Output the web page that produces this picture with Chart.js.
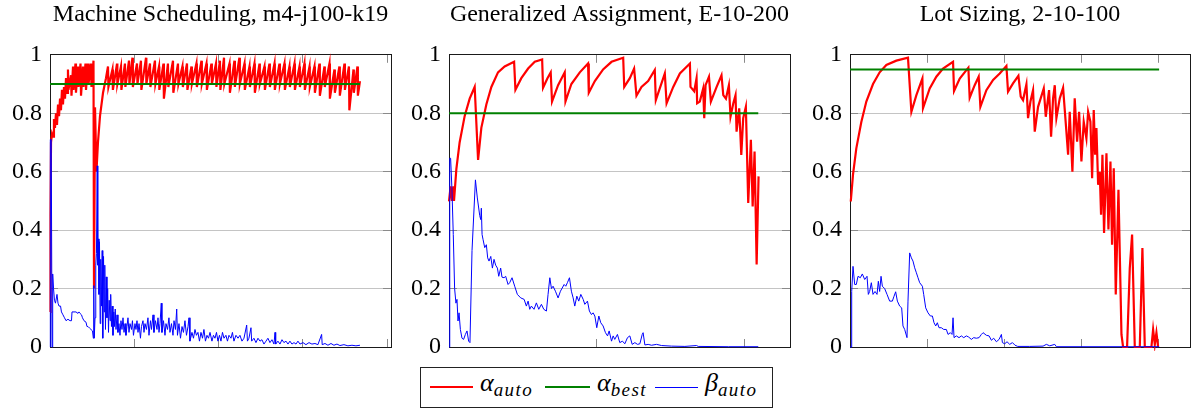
<!DOCTYPE html>
<html>
<head>
<meta charset="utf-8">
<script src="https://cdn.jsdelivr.net/npm/chart.js@4.4.0/dist/chart.umd.min.js"></script>
<style>
  body { margin: 0; background: #fff; width: 1194px; height: 409px; overflow: hidden; position: relative; font-family: "Liberation Serif", serif; }
  canvas { position: absolute; top: 0; }
  #legend { position: absolute; left: 420px; top: 367px; width: 351px; height: 39px; border: 1px solid #222; background: #fff; }
  #legend .ln { position: absolute; top: 18px; height: 0; }
  #legend .lb { position: absolute; top: 2px; font-size: 26px; line-height: 26px; font-style: italic; white-space: nowrap; }
  #legend sub { font-size: 19px; line-height: 0; vertical-align: -5px; letter-spacing: 1.4px; }
</style>
</head>
<body>
<canvas id="ms" width="399" height="375" style="left:0px"></canvas>
<canvas id="ga" width="400" height="375" style="left:399px"></canvas>
<canvas id="ls" width="394" height="375" style="left:800px"></canvas>

<div id="legend">
  <span class="ln" style="left:9px;width:43px;border-top:2px solid #ff0000"></span>
  <span class="lb" style="left:59px">α<sub>auto</sub></span>
  <span class="ln" style="left:124px;width:45px;border-top:2px solid #008000"></span>
  <span class="lb" style="left:176px">α<sub>best</sub></span>
  <span class="ln" style="left:234px;width:43px;border-top:1px solid #0000ff;margin-top:1px"></span>
  <span class="lb" style="left:284px">β<sub>auto</sub></span>
</div>

<script>
// Machine Scheduling, m4-j100-k19  (x: iterations, ticks every 100)
const msAlpha = [[0,0.12],[0.6,0.45],[1.2,0.70],[2.4,0.73],[3.6,0.72],[4.7,0.78],[5.9,0.75],[7.1,0.80],[8.3,0.76],[9.5,0.83],[10.7,0.79],[11.9,0.85],[13.0,0.81],[14.2,0.88],[15.4,0.83],[16.6,0.89],[17.8,0.85],[19.0,0.92],[20.2,0.87],[21.3,0.95],[21.9,0.88],[24.9,0.93],[25.5,0.86],[27.3,0.96],[27.9,0.88],[30.2,0.97],[30.8,0.87],[33.2,0.96],[33.8,0.89],[36.2,0.97],[36.8,0.86],[39.1,0.96],[39.7,0.89],[42.1,0.97],[42.7,0.88],[45.1,0.97],[45.7,0.90],[48.6,0.97],[49.2,0.89],[51.6,0.98],[52.2,0.20],[53.4,0.82],[55.1,0.60],[56.9,0.70],[59.3,0.79],[62.9,0.87],[66.4,0.92],
  [68.8,0.96],[69.3,0.89],[74.1,0.95],[74.6,0.88],[79.5,0.97],[79.9,0.90],[84.2,0.96],[84.7,0.88],[88.9,0.97],[89.4,0.89],[93.7,0.98],[94.2,0.90],[97.8,0.99],[98.3,0.89],[103.2,0.97],[103.7,0.90],[107.9,0.98],[108.4,0.88],[113.9,0.99],[114.3,0.90],[118.6,0.97],[119.1,0.89],[124.5,0.98],[125.0,0.90],[129.3,0.96],[129.7,0.88],[134.6,0.97],[135.1,0.85],[139.9,0.97],[140.4,0.89],[145.9,0.98],[146.3,0.87],[151.8,0.97],[152.3,0.90],[157.1,0.96],[157.6,0.89],[162.5,0.97],[163.0,0.88],[167.8,0.96],[168.3,0.90],[173.7,0.97],[174.2,0.89],[179.7,0.98],[180.1,0.90],[185.6,0.97],[186.1,0.88],[191.5,0.97],[192.0,0.90],[196.9,0.97],[197.4,0.89],[201.6,0.98],[202.1,0.88],[206.4,0.99],[206.8,0.90],[212.9,0.97],[213.4,0.87],[218.8,0.98],[219.3,0.89],[224.7,0.99],[225.2,0.90],[230.7,0.97],[231.1,0.88],[236.6,0.96],[237.1,0.89],[242.5,0.97],[243.0,0.87],[248.5,0.97],[248.9,0.90],[254.4,0.96],[254.9,0.88],[260.3,0.97],[260.8,0.89],[266.3,0.97],[266.7,0.88],[272.2,0.97],[272.7,0.90],[278.1,0.97],[278.6,0.88],[284.0,0.96],[284.5,0.89],[290.0,0.97],[290.5,0.88],[295.9,0.96],[296.4,0.89],[301.8,0.97],[302.3,0.88],[307.8,0.96],[308.2,0.89],[313.7,0.96],[314.2,0.87],[319.6,0.97],[320.1,0.86],[325.6,0.96],[326.0,0.89],[331.5,0.97],[332.0,0.85],[337.4,0.95],[337.9,0.87],[343.3,0.96],[343.8,0.86],[349.3,0.97],[349.8,0.88],[354.6,0.96],[355.1,0.81],[360.0,0.95],[360.4,0.87],[364.7,0.96],[365.2,0.86],[367.7,0.91]];
const msBest = [[0,0.9],[367.7,0.9]];
const msBeta = [[0,0],[0.4,0.71],[1.5,0.71],[2.4,0],[3.2,0.25],[4.2,0.20],[5.3,0.16],[6.5,0.15],[8.3,0.18],[9.5,0.15],[10.7,0.14],[12.5,0.14],[13.6,0.12],[15.4,0.11],[17.2,0.10],[19.0,0.09],[21.3,0.095],[23.7,0.09],[25.5,0.09],[26.1,0.12],[30.8,0.12],[33.2,0.115],[34.4,0.12],[35.6,0.115],[37.4,0.11],[38.5,0.10],[40.3,0.09],[42.7,0.085],[43.9,0.07],[45.1,0.07],[46.8,0.065],[48.6,0.06],[50.4,0.055],[51.4,0.03],[51.9,0.21],[52.5,0.03],[53.4,0.10],[54.3,0.28],[55.1,0.32],[56.0,0.62],[56.7,0.28],[57.3,0.37],[58.1,0.18],[58.7,0.36],[59.5,0.08],[60.2,0.30],[61.1,0.14],[61.9,0.33],[62.6,0.03],[63.5,0.31],[64.3,0.12],[65.0,0.28],[65.8,0.06],[66.7,0.24],[67.6,0.10],[68.4,0.20],[69.4,0.05],[70.2,0.16],[71.2,0.09],[72.0,0.18],[72.9,0.07],[73.8,0.14],[74.7,0.04],[75.7,0.12],[76.5,0.07],[77.4,0.13],[78.3,0.06],[79.5,0.11],[80.6,0.05],[81.8,0.08],[83.0,0.04],[84.2,0.09],[85.4,0.06],[86.6,0.10],[87.8,0.05],[89.0,0.08],[90.1,0.04],[91.3,0.07],[92.5,0.10],[93.7,0.05],[94.9,0.08],[96.7,0.06],[97.8,0.09],[99.0,0.04],[100.8,0.08],[102.0,0.06],[103.2,0.09],[104.4,0.05],[105.6,0.08],[107.3,0.03],[108.5,0.07],[110.3,0.09],[111.5,0.05],[112.7,0.08],[114.4,0.06],[116.2,0.10],[117.4,0.04],[119.2,0.09],[120.4,0.06],[122.2,0.11],[123.3,0.05],[125.1,0.09],[126.9,0.06],[128.1,0.10],[129.3,0.05],[130.5,0.08],[132.0,0.15],[132.8,0.05],[134.6,0.09],[136.4,0.04],[137.6,0.08],[139.4,0.06],[141.1,0.10],[142.3,0.05],[144.1,0.08],[145.9,0.04],[147.1,0.09],[148.8,0.06],[150.3,0.13],[151.2,0.04],[153.0,0.08],[154.8,0.03],[156.6,0.07],[158.3,0.05],[160.1,0.09],[161.9,0.04],[163.7,0.07],[164.9,0.10],[166.0,0.02],[168.4,0.05],[170.2,0.03],[172.0,0.06],[173.7,0.04],[175.5,0.05],[177.3,0.02],[179.1,0.05],[180.9,0.03],[182.6,0.06],[184.4,0.02],[186.2,0.04],[188.0,0.03],[189.8,0.05],[192.1,0.02],[193.9,0.04],[195.7,0.03],[197.5,0.05],[199.2,0.02],[201.0,0.04],[202.8,0.02],[204.6,0.05],[206.4,0.03],[208.7,0.04],[210.5,0.02],[212.3,0.04],[214.7,0.03],[216.4,0.05],[218.2,0.02],[220.6,0.04],[223.0,0.03],[225.3,0.04],[227.7,0.02],[230.1,0.03],[233.3,0.075],[234.2,0.02],[236.0,0.03],[238.4,0.066],[239.2,0.02],[241.9,0.03],[244.3,0.015],[246.7,0.03],[249.1,0.02],[251.4,0.025],[253.8,0.01],[256.2,0.02],[258.5,0.03],[260.9,0.015],[263.3,0.025],[265.7,0.01],[266.9,0.05],[267.7,0.01],[270.4,0.02],[272.8,0.01],[275.2,0.025],[277.5,0.015],[279.9,0.02],[282.3,0.01],[284.6,0.02],[287.0,0.01],[289.4,0.015],[291.8,0.01],[294.1,0.02],[296.5,0.01],[300.1,0.015],[303.6,0.008],[307.2,0.015],[310.7,0.01],[314.3,0.012],[317.8,0.008],[322.2,0.043],[322.9,0.008],[326.2,0.012],[329.7,0.006],[333.3,0.012],[336.8,0.006],[340.4,0.01],[343.9,0.005],[348.7,0.008],[353.4,0.004],[358.2,0.006],[362.9,0.004],[367.7,0.006]];
const msTicks = [100, 200, 300, 400];

// Generalized Assignment, E-10-200
const gaAlpha = [[0,0.498],[1.1,0.55],[2.0,0.50],[2.9,0.55],[3.4,0.50],[5.0,0.61],[7.2,0.70],[10.6,0.79],[14.0,0.85],[17.4,0.89],[19.7,0.64],[21.9,0.75],[25.3,0.83],[28.7,0.89],[33.2,0.94],[37.7,0.96],[44.1,0.976],[45.0,0.88],[49.0,0.92],[53.6,0.953],[58.1,0.976],[63.1,0.984],[63.7,0.887],[66.7,0.92],[68.9,0.94],[69.8,0.84],[73.9,0.896],[78.4,0.94],[78.9,0.84],[82.9,0.90],[88.6,0.94],[94.2,0.97],[94.7,0.87],[98.8,0.91],[104.4,0.95],[110.1,0.976],[118.0,0.99],[118.7,0.89],[122.5,0.92],[125.4,0.953],[127.0,0.86],[130.4,0.89],[134.9,0.91],[139.4,0.948],[140.1,0.845],[146.2,0.936],[147.4,0.834],[151.9,0.89],[156.4,0.936],[163.2,0.97],[163.6,0.89],[166.1,0.875],[167.7,0.92],[168.1,0.834],[169.9,0.84],[172.2,0.885],[172.9,0.783],[173.8,0.896],[176.1,0.925],[177.4,0.84],[181.3,0.89],[184.6,0.93],[185.8,0.862],[187.6,0.85],[189.6,0.896],[190.7,0.788],[192.6,0.834],[194.1,0.862],[194.8,0.737],[196.6,0.817],[198.0,0.657],[199.3,0.783],[201.1,0.822],[202.7,0.493],[204.5,0.709],[205.7,0.481],[207.0,0.669],[208.4,0.282],[209.7,0.584]];
const gaBest = [[0,0.8],[209.5,0.8]];
const gaBeta = [[0,0],[0.5,0.646],[1.1,0.646],[2.0,0.54],[2.9,0.385],[3.8,0.20],[4.7,0.15],[5.4,0.163],[6.1,0.089],[6.8,0.117],[7.7,0.06],[8.8,0.03],[9.9,0.026],[11.1,0.043],[12.2,0.055],[13.3,0.02],[14.2,0.015],[15.6,0.33],[17.9,0.572],[19.2,0.51],[20.8,0.45],[21.5,0.436],[21.9,0.475],[22.4,0.385],[23.1,0.367],[24.2,0.34],[25.3,0.35],[26.2,0.305],[27.1,0.294],[28.3,0.31],[29.4,0.27],[30.5,0.30],[31.6,0.28],[32.8,0.27],[33.7,0.242],[35.0,0.27],[35.9,0.239],[37.3,0.237],[38.4,0.242],[40.0,0.214],[41.1,0.22],[42.7,0.237],[44.5,0.208],[46.3,0.18],[48.6,0.168],[50.9,0.163],[52.4,0.14],[53.6,0.157],[54.7,0.129],[55.8,0.14],[57.6,0.129],[59.2,0.151],[60.8,0.129],[62.6,0.146],[64.2,0.129],[66.0,0.123],[67.1,0.18],[68.3,0.237],[69.4,0.20],[70.5,0.208],[72.1,0.191],[73.9,0.168],[75.5,0.191],[78.0,0.214],[79.1,0.208],[80.2,0.22],[81.6,0.237],[82.9,0.191],[84.1,0.168],[85.2,0.14],[86.6,0.174],[87.9,0.157],[89.3,0.18],[90.9,0.163],[92.0,0.146],[93.8,0.157],[95.1,0.123],[96.5,0.111],[97.6,0.117],[98.8,0.106],[100.1,0.066],[101.5,0.106],[102.8,0.083],[104.4,0.072],[106.0,0.049],[107.4,0.038],[108.5,0.055],[110.1,0.02],[111.2,0.038],[112.3,0.026],[114.1,0.043],[115.7,0.015],[117.5,0.02],[119.1,0.011],[120.9,0.032],[122.5,0.038],[124.1,0.009],[125.9,0.015],[127.7,0.009],[129.3,0.011],[130.9,0.043],[131.5,0.049],[132.7,0.007],[134.9,0.009],[137.2,0.006],[140.6,0.009],[144.0,0.005],[150.7,0.003],[159.8,0.002],[167.7,0.005],[168.8,0.002],[189.2,0.001],[209.5,0.001]];
const gaTicks = [100, 200];

// Lot Sizing, 2-10-100
const lsAlpha = [[1.0,0.498],[3.9,0.59],[8.2,0.68],[14.7,0.77],[21.2,0.84],[29.9,0.90],[38.5,0.94],[47.2,0.965],[60.2,0.98],[75.3,0.99],[79.7,0.805],[86.2,0.862],[94.0,0.919],[94.8,0.817],[103.5,0.885],[112.1,0.925],[120.8,0.953],[133.8,0.976],[135.1,0.876],[142.5,0.919],[153.7,0.956],[155.4,0.853],[161.9,0.896],[167.1,0.925],[169.3,0.822],[177.1,0.879],[185.8,0.914],[194.4,0.936],[203.1,0.962],[205.2,0.874],[211.7,0.902],[218.7,0.928],[221.7,0.857],[224.7,0.845],[229.1,0.899],[231.2,0.783],[234.3,0.84],[237.7,0.879],[239.9,0.737],[244.2,0.822],[251.6,0.885],[254.2,0.788],[258.5,0.879],[261.1,0.72],[263.7,0.851],[265.9,0.896],[268.0,0.783],[272.4,0.851],[276.7,0.887],[281.0,0.737],[283.2,0.658],[285.3,0.805],[288.8,0.60],[291.8,0.851],[294.9,0.703],[297.5,0.805],[300.5,0.635],[303.5,0.771],[307.0,0.714],[309.2,0.805],[312.2,0.771],[314.4,0.578],[316.5,0.811],[318.3,0.658],[320.0,0.749],[322.2,0.555],[324.3,0.60],[326.0,0.453],[327.8,0.658],[329.9,0.39],[333.0,0.663],[335.6,0.402],[338.2,0.635],[340.3,0.35],[342.5,0.612],[345.1,0.18],[348.6,0.538],[352.5,0.043],[354.6,0],[359.8,0],[363.3,0.27],[366.3,0.385],[369.8,0],[376.3,0],[379.7,0.339],[382.8,0],[391.4,0],[393.6,0.06],[395.8,0.009],[397.9,0.049],[400.1,0]];
const lsBest = [[0,0.95],[401.4,0.95]];
const lsBeta = [[0,0],[1.3,0],[2.2,0.19],[3.9,0.276],[6.1,0.214],[8.2,0.214],[10.4,0.242],[13.4,0.237],[16.0,0.25],[19.1,0.231],[22.1,0.242],[23.8,0.18],[25.5,0.19],[27.7,0.22],[29.9,0.18],[32.5,0.19],[35.1,0.18],[36.8,0.225],[38.5,0.19],[40.3,0.242],[42.0,0.208],[45.0,0.20],[48.1,0.18],[51.5,0.157],[55.0,0.157],[57.2,0.174],[59.3,0.189],[61.5,0.157],[64.5,0.14],[67.1,0.134],[68.8,0.072],[71.0,0.06],[74.0,0.032],[75.3,0.157],[77.5,0.322],[79.7,0.305],[81.8,0.294],[84.0,0.271],[86.2,0.254],[88.3,0.237],[90.5,0.22],[94.0,0.208],[95.7,0.18],[98.3,0.134],[101.3,0.117],[104.4,0.106],[107.0,0.106],[109.1,0.083],[111.3,0.072],[113.4,0.083],[115.6,0.066],[118.6,0.066],[121.7,0.06],[125.1,0.06],[127.3,0.043],[130.3,0.049],[132.5,0.043],[133.8,0.10],[135.1,0.032],[138.1,0.038],[141.6,0.032],[144.6,0.038],[147.7,0.032],[151.1,0.038],[154.1,0.034],[157.6,0.026],[160.6,0.032],[164.1,0.03],[167.6,0.032],[170.6,0.043],[172.8,0.049],[177.1,0.04],[180.6,0.038],[183.6,0.023],[186.6,0.03],[190.1,0.018],[193.6,0.026],[196.6,0.043],[197.9,0.015],[200.9,0.011],[203.9,0.018],[207.4,0.009],[210.9,0.015],[214.3,0.006],[217.8,0.002],[233.4,0.002],[250.7,0.003],[255.0,0.009],[259.4,0.004],[265.9,0.009],[268.0,0.001],[401.4,0.001]];
const lsTicks = [100, 200, 300, 400];

const serif = 'Liberation Serif';
const frameColor = '#1a1a1a';
const tickMarkColor = '#8a8a8a';

// x axis pair (bottom + top): no labels, short inward tick marks, frame border
function xAxis(position, xMax, xTicks) {
  return {
    type: 'linear', position: position, axis: 'x', min: 0, max: xMax,
    afterBuildTicks: s => { s.ticks = xTicks.map(v => ({ value: v })); },
    ticks: { display: false },
    grid: { display: true, drawOnChartArea: false, drawTicks: true, tickLength: -8, tickColor: tickMarkColor },
    border: { display: true, color: frameColor, width: 1 },
    afterFit: s => { s.height = 0; }
  };
}

function makePanel(id, title, alpha, best, beta, xMax, xTicks, padRight) {
  return new Chart(document.getElementById(id), {
    type: 'line',
    data: {
      datasets: [
        { label: 'alpha_auto', data: alpha, borderColor: '#ff0000', borderWidth: 2.2, order: 3, clip: 4 },
        { label: 'alpha_best', data: best, borderColor: '#008000', borderWidth: 2, order: 2, clip: 4 },
        { label: 'beta_auto', data: beta, borderColor: '#0000ff', borderWidth: 1, order: 1, clip: 4 }
      ]
    },
    options: {
      responsive: false,
      animation: false,
      events: [],
      layout: { padding: { left: 0, right: padRight, top: 0, bottom: 14 } },
      elements: { point: { radius: 0 }, line: { tension: 0, fill: false } },
      scales: {
        x: xAxis('bottom', xMax, xTicks),
        x2: xAxis('top', xMax, xTicks),
        y: {
          position: 'left', min: 0, max: 1,
          ticks: {
            stepSize: 0.2, color: '#000', padding: 16,
            font: { family: serif, size: 24, lineHeight: 1 },
            callback: v => String(Number(v.toFixed(1)))
          },
          grid: {
            color: c => (c.tick && c.tick.value > 0.01 && c.tick.value < 0.99) ? '#c4c4c4' : 'rgba(0,0,0,0)',
            drawTicks: true, tickLength: -8, tickColor: tickMarkColor
          },
          border: { display: true, color: frameColor, width: 1 },
          afterFit: s => { s.width = 50; }
        },
        y2: {
          position: 'right', axis: 'y', min: 0, max: 1,
          ticks: { display: false, stepSize: 0.2 },
          grid: { display: true, drawOnChartArea: false, drawTicks: true, tickLength: -8, tickColor: tickMarkColor },
          border: { display: true, color: frameColor, width: 1 },
          afterFit: s => { s.width = 0; }
        }
      },
      plugins: {
        legend: { display: false },
        tooltip: { enabled: false },
        title: {
          display: true, text: title, fullSize: false, color: '#000',
          font: { family: serif, size: 24, weight: 'normal', lineHeight: 1.2 },
          padding: { top: 0, bottom: 26 }
        }
      }
    }
  });
}

makePanel('ms', 'Machine Scheduling, m4-j100-k19', msAlpha, msBest, msBeta, 404.5, msTicks, 8);
makePanel('ga', 'Generalized Assignment, E-10-200', gaAlpha, gaBest, gaBeta, 231, gaTicks, 9);
makePanel('ls', 'Lot Sizing, 2-10-100', lsAlpha, lsBest, lsBeta, 441.5, lsTicks, 4);
</script>
</body>
</html>
